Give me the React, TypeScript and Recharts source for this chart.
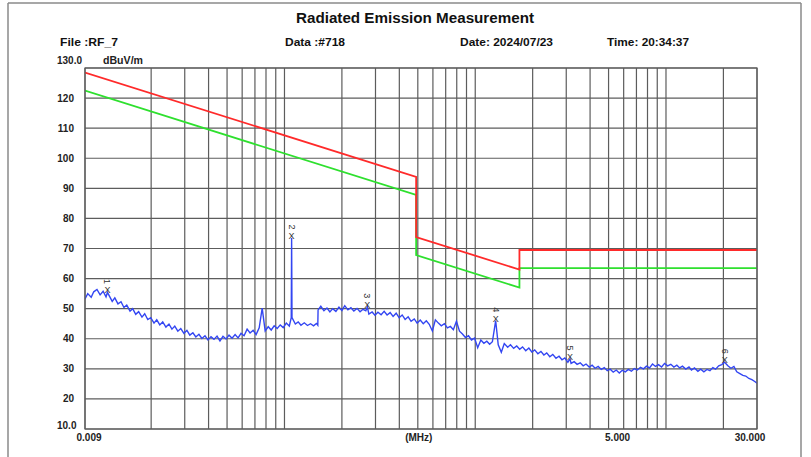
import React from 'react';
import { ComposedChart, Line, XAxis, YAxis, CartesianGrid, Scatter } from 'recharts';

const traceFreq = [
  0.009, 0.0093, 0.0097, 0.01, 0.0104, 0.0108, 0.0112, 0.0116, 0.0118, 0.0125, 0.0129, 0.0134, 0.0139, 0.0144, 0.0149,
  0.0155, 0.016, 0.0166, 0.0172, 0.0179, 0.0185, 0.0192, 0.0199, 0.0207, 0.0214, 0.0222, 0.023, 0.0239, 0.0248, 0.0257,
  0.0266, 0.0276, 0.0286, 0.0297, 0.0308, 0.0319, 0.0331, 0.0343, 0.0356, 0.0369, 0.0383, 0.0397, 0.0412, 0.0427, 0.0443,
  0.0459, 0.0476, 0.0494, 0.0512, 0.0531, 0.0551, 0.0571, 0.0592, 0.0614, 0.0637, 0.066, 0.0685, 0.071, 0.0737, 0.0764,
  0.0792, 0.0822, 0.0852, 0.0883, 0.0916, 0.095, 0.0985, 0.1022, 0.106, 0.1085, 0.109, 0.1095, 0.114, 0.118, 0.122,
  0.127, 0.132, 0.137, 0.142, 0.147, 0.1495, 0.15, 0.155, 0.161, 0.167, 0.173, 0.179, 0.186, 0.193, 0.2,
  0.207, 0.215, 0.223, 0.231, 0.24, 0.249, 0.258, 0.267, 0.272, 0.277, 0.288, 0.298, 0.309, 0.321, 0.333,
  0.345, 0.358, 0.371, 0.385, 0.399, 0.414, 0.429, 0.445, 0.461, 0.479, 0.496, 0.515, 0.534, 0.554, 0.574,
  0.596, 0.618, 0.641, 0.664, 0.689, 0.715, 0.741, 0.768, 0.797, 0.827, 0.857, 0.889, 0.922, 0.956, 0.992,
  1.03, 1.07, 1.11, 1.15, 1.19, 1.23, 1.28, 1.32, 1.37, 1.42, 1.48, 1.53, 1.59, 1.65, 1.71,
  1.77, 1.84, 1.91, 1.98, 2.05, 2.13, 2.21, 2.29, 2.37, 2.46, 2.55, 2.65, 2.75, 2.85, 2.95,
  3.06, 3.14, 3.18, 3.3, 3.42, 3.55, 3.68, 3.81, 3.96, 4.1, 4.25, 4.41, 4.58, 4.75, 4.92,
  5.1, 5.29, 5.49, 5.69, 5.9, 6.12, 6.35, 6.59, 6.83, 7.08, 7.35, 7.62, 7.9, 8.2, 8.5,
  8.81, 9.14, 9.48, 9.83, 10.2, 10.6, 11.0, 11.4, 11.8, 12.2, 12.7, 13.2, 13.6, 14.1, 14.7,
  15.2, 15.8, 16.4, 17.0, 17.6, 18.2, 18.9, 19.6, 20.3, 21.1, 21.9, 22.7, 23.5, 24.4, 25.3,
  26.2, 27.2, 28.2, 29.2, 30.0,
];

const traceLevel = [
  53.2, 55.0, 53.8, 55.6, 56.4, 54.6, 55.8, 53.9, 55.4, 52.4, 53.6, 51.6, 52.3, 50.4, 51.2,
  49.2, 50.0, 48.1, 49.0, 47.2, 48.3, 46.4, 47.0, 45.2, 46.3, 44.6, 45.6, 43.9, 44.9, 43.2,
  44.2, 42.5, 43.4, 41.8, 42.8, 41.2, 42.0, 40.6, 41.5, 40.1, 41.0, 39.6, 40.7, 39.8, 40.9,
  39.3, 40.8, 39.9, 41.2, 40.2, 41.4, 40.3, 41.8, 41.0, 43.2, 41.9, 42.8, 41.4, 43.6, 50.2,
  42.6, 44.0, 42.9, 44.3, 43.4, 44.6, 43.7, 45.2, 44.2, 47.0, 73.5, 47.0, 44.9, 45.6, 44.5,
  45.3, 44.4, 45.0, 44.3, 45.1, 44.5, 49.6, 50.8, 49.3, 50.2, 48.9, 50.0, 49.1, 50.5, 49.4,
  51.0, 49.6, 50.3, 49.2, 50.1, 49.0, 49.8, 49.3, 50.6, 48.2, 48.9, 47.8, 48.8, 48.0, 49.1,
  47.9, 48.7, 47.4, 48.5, 47.0, 47.9, 46.4, 47.3, 45.8, 46.6, 45.2, 46.2, 45.0, 46.0, 44.8,
  42.6, 46.3, 45.2, 44.3, 45.0, 43.6, 44.1, 43.0, 45.8, 42.5, 41.6, 40.4, 41.0, 39.6, 40.2,
  37.0, 39.6, 38.5, 39.2, 38.2, 39.0, 46.0, 38.0, 35.5, 38.4, 37.2, 38.0, 36.8, 37.6, 36.5,
  37.3, 36.0, 36.9, 35.6, 36.3, 35.0, 35.8, 34.6, 35.3, 34.0, 34.8, 33.5, 34.2, 33.0, 33.6,
  32.2, 33.3, 31.8, 32.4, 31.5, 32.0, 31.0, 31.6, 30.6, 31.2, 30.2, 30.8, 29.8, 30.4, 29.4,
  29.9, 28.9, 29.6, 28.6, 29.5, 29.0, 29.8, 29.2, 30.1, 29.6, 30.5, 30.0, 30.9, 30.3, 31.6,
  30.8, 31.4, 30.6, 31.8, 31.0, 31.5, 30.6, 31.2, 30.3, 30.9, 29.9, 30.6, 29.6, 30.3, 29.2,
  29.9, 29.0, 29.8, 29.4, 30.4, 29.9, 31.0, 31.4, 32.2, 31.0, 30.2, 30.8, 29.0, 28.4, 27.8,
  27.6, 26.8, 26.4, 25.8, 25.2,
];

const peakFreq = [0.0118, 0.109, 0.272, 1.28, 3.14, 20.3];
const peakLabel = ['1', '2', '3', '4', '5', '6'];

const limitFreq = [0.009, 0.49, 0.49, 1.705, 1.705, 30];
const qpLimit = [128.5, 93.8, 73.8, 63.0, 69.5, 69.5];
const avgLimit = [122.5, 87.8, 67.8, 57.0, 63.5, 63.5];

const xGridTicks = [
  0.009, 0.02, 0.03, 0.04, 0.05, 0.06, 0.07, 0.08, 0.09,
  0.1, 0.2, 0.3, 0.4, 0.5, 0.6, 0.7, 0.8, 0.9,
  1, 2, 3, 4, 5, 6, 7, 8, 9,
  10, 20, 30,
];
const xLabelValues = [0.009, 0.5, 5, 30];
const xLabelTexts = ['0.009', '(MHz)', '5.000', '30.000'];
const xLabelShift = [4, 1, 9, -7];

const yTicks = [10, 20, 30, 40, 50, 60, 70, 80, 90, 100, 110, 120, 130];

const traceData = traceFreq.map((f, i) => ({ freq: f, level: traceLevel[i] }));
const qpData = limitFreq.map((f, i) => ({ freq: f, level: qpLimit[i] }));
const avgData = limitFreq.map((f, i) => ({ freq: f, level: avgLimit[i] }));
const peakData = peakFreq.map((f, i) => ({
  freq: f,
  level: traceLevel[traceFreq.indexOf(f)],
  label: peakLabel[i],
}));

const FONT = '"Liberation Sans", Arial, sans-serif';

const XTick = (props: any) => {
  const { x, payload } = props;
  const idx = xLabelValues.indexOf(payload.value);
  if (idx < 0) return <g />;
  return (
    <text
      x={x + xLabelShift[idx]}
      y={441}
      textAnchor="middle"
      fontFamily={FONT}
      fontSize={10}
      fontWeight="bold"
      fill="#222"
    >
      {xLabelTexts[idx]}
    </text>
  );
};

const YTick = (props: any) => {
  const { y, payload } = props;
  const v = payload.value;
  if (v === 130) {
    return (
      <text x={57} y={64} fontFamily={FONT} fontSize={10} fontWeight="bold" fill="#222">
        130.0
      </text>
    );
  }
  if (v === 10) {
    return (
      <text x={57} y={429} fontFamily={FONT} fontSize={10} fontWeight="bold" fill="#222">
        10.0
      </text>
    );
  }
  return (
    <text x={74} y={y + 3.5} textAnchor="end" fontFamily={FONT} fontSize={10} fontWeight="bold" fill="#222">
      {String(v)}
    </text>
  );
};

const PeakMark = (props: any) => {
  const { cx, cy, payload } = props;
  if (cx == null || cy == null) return <g />;
  return (
    <g>
      <text
        x={cx}
        y={cy + 1}
        textAnchor="middle"
        fontFamily={FONT}
        fontSize={9}
        fill="#333"
      >
        X
      </text>
      <text
        x={cx - 3}
        y={cy - 11}
        transform={`rotate(90 ${cx - 3} ${cy - 11})`}
        textAnchor="middle"
        fontFamily={FONT}
        fontSize={9}
        fill="#333"
      >
        {payload.label}
      </text>
    </g>
  );
};

export default function App() {
  return (
    <div style={{ position: 'absolute', left: 0, top: 0, width: 811, height: 457, background: '#fff' }}>
      <ComposedChart
        width={811}
        height={457}
        margin={{ top: 68, right: 54, bottom: 8, left: 55 }}
        data={traceData}
      >
        <CartesianGrid stroke="#5c5c5c" strokeWidth={1.2} />
        <XAxis
          dataKey="freq"
          type="number"
          scale="log"
          domain={[0.009, 30]}
          ticks={xGridTicks}
          interval={0}
          allowDataOverflow
          axisLine={false}
          tickLine={false}
          height={20}
          tick={<XTick />}
        />
        <YAxis
          type="number"
          domain={[10, 130]}
          ticks={yTicks}
          interval={0}
          allowDataOverflow
          axisLine={false}
          tickLine={false}
          width={30}
          tick={<YTick />}
        />
        <Line
          data={traceData}
          dataKey="level"
          type="linear"
          stroke="#3346f2"
          strokeWidth={1.4}
          dot={false}
          isAnimationActive={false}
        />
        <Line
          data={avgData}
          dataKey="level"
          type="linear"
          stroke="#2ee02e"
          strokeWidth={1.8}
          dot={false}
          isAnimationActive={false}
        />
        <Line
          data={qpData}
          dataKey="level"
          type="linear"
          stroke="#ff2a2a"
          strokeWidth={1.8}
          dot={false}
          isAnimationActive={false}
        />
        <Scatter data={peakData} dataKey="level" shape={<PeakMark />} isAnimationActive={false} />
      </ComposedChart>
      <svg
        width={811}
        height={457}
        style={{ position: 'absolute', left: 0, top: 0, pointerEvents: 'none' }}
      >
        <line x1={8} y1={3} x2={801} y2={3} stroke="#8a8a8a" strokeWidth={1.5} />
        <line x1={8} y1={3} x2={8} y2={457} stroke="#8a8a8a" strokeWidth={1.5} />
        <line x1={801} y1={3} x2={801} y2={457} stroke="#8a8a8a" strokeWidth={1.5} />
        <rect x={85} y={68} width={672} height={361} fill="none" stroke="#5c5c5c" strokeWidth={1.2} />
        <text
          x={296}
          y={23}
          textLength={238}
          lengthAdjust="spacingAndGlyphs"
          fontFamily={FONT}
          fontSize={14}
          fontWeight="bold"
          fill="#111"
        >
          Radiated Emission Measurement
        </text>
        <text x={60} y={46} textLength={58} lengthAdjust="spacingAndGlyphs" fontFamily={FONT} fontSize={10.5} fontWeight="bold" fill="#111">
          File :RF_7
        </text>
        <text x={285} y={46} textLength={60} lengthAdjust="spacingAndGlyphs" fontFamily={FONT} fontSize={10.5} fontWeight="bold" fill="#111">
          Data :#718
        </text>
        <text x={460} y={46} textLength={93} lengthAdjust="spacingAndGlyphs" fontFamily={FONT} fontSize={10.5} fontWeight="bold" fill="#111">
          Date: 2024/07/23
        </text>
        <text x={607} y={46} textLength={82} lengthAdjust="spacingAndGlyphs" fontFamily={FONT} fontSize={10.5} fontWeight="bold" fill="#111">
          Time: 20:34:37
        </text>
        <text x={103} y={64} textLength={40} lengthAdjust="spacingAndGlyphs" fontFamily={FONT} fontSize={10} fontWeight="bold" fill="#222">
          dBuV/m
        </text>
      </svg>
    </div>
  );
}
